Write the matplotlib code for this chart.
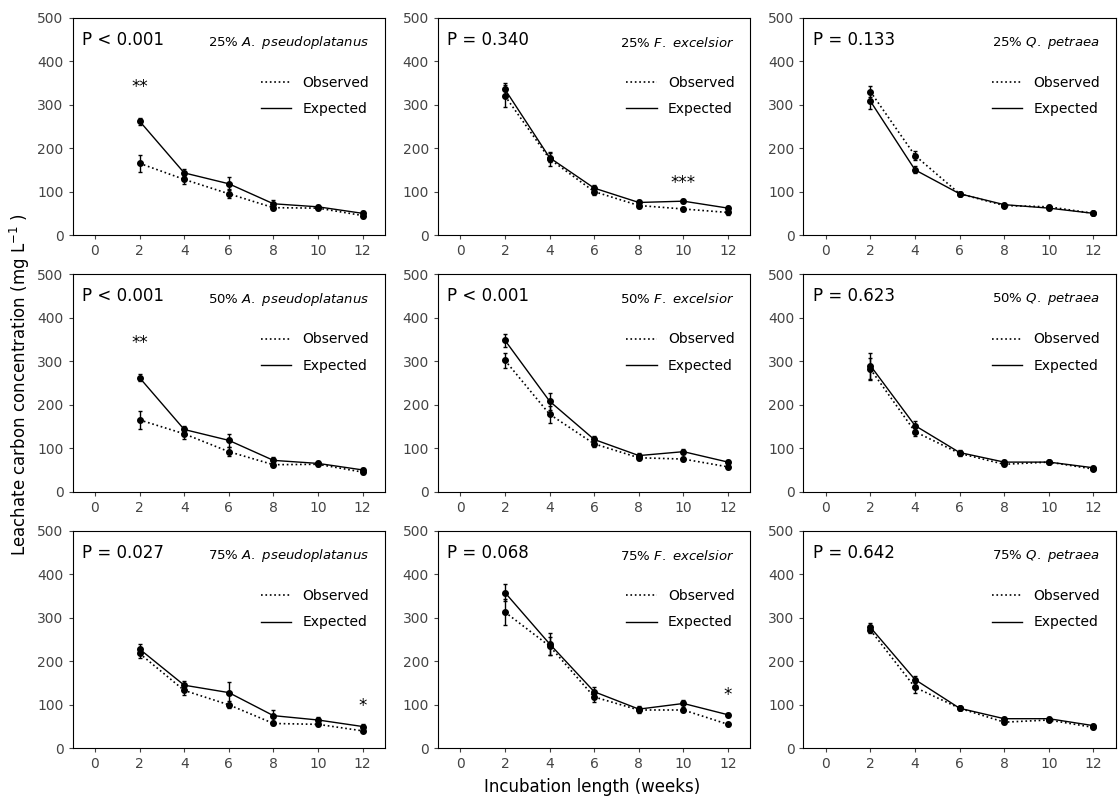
import matplotlib
matplotlib.use("Agg")
import matplotlib.pyplot as plt
from matplotlib.lines import Line2D

plt.rcParams['mathtext.fontset'] = 'custom'
plt.rcParams['mathtext.it'] = 'DejaVu Sans:italic'
plt.rcParams['mathtext.rm'] = 'DejaVu Sans'

weeks = [2, 4, 6, 8, 10, 12]
species = ["A. pseudoplatanus", "F. excelsior", "Q. petraea"]
levels = ["25%", "50%", "75%"]
pvals = [["P < 0.001", "P = 0.340", "P = 0.133"],
         ["P < 0.001", "P < 0.001", "P = 0.623"],
         ["P = 0.027", "P = 0.068", "P = 0.642"]]
obs = [[[165,128,95,63,62,45],[320,175,100,68,60,52],[330,183,95,68,65,50]],
       [[165,133,92,62,63,45],[302,178,110,78,75,57],[282,138,88,63,68,52]],
       [[218,133,100,57,55,40],[313,235,118,88,88,55],[272,140,92,60,65,48]]]
exp_ = [[[262,143,118,72,65,50],[335,178,108,75,78,62],[308,150,95,70,62,50]],
        [[262,143,118,72,65,50],[348,208,120,83,92,68],[290,152,90,68,68,55]],
        [[228,145,128,75,65,50],[358,240,130,90,103,77],[278,158,92,68,68,52]]]
obs_err = [[[20,10,10,5,5,5],[25,15,8,5,5,5],[12,10,5,4,4,3]],
           [[20,12,10,5,5,4],[18,20,8,5,5,5],[25,10,5,4,3,3]],
           [[10,10,8,4,4,3],[30,20,12,5,5,3],[8,12,4,4,3,3]]]
exp_err = [[[8,8,15,8,5,5],[15,10,8,5,5,5],[18,8,5,4,4,3]],
           [[8,8,15,8,5,5],[15,20,8,5,5,5],[30,10,5,4,3,3]],
           [[12,10,25,12,6,5],[20,25,10,8,8,5],[10,8,4,4,3,3]]]
stars = {(0,0):(2,330,"**"), (1,0):(2,330,"**"), (0,1):(10,108,"***"),
         (2,0):(12,85,"*"), (2,1):(12,110,"*")}

fig, axes = plt.subplots(3, 3, figsize=(11.18, 8.02), dpi=100)
fig.subplots_adjust(left=0.065, right=0.998, top=0.978, bottom=0.067, wspace=0.17, hspace=0.18)
handles = [Line2D([], [], color='black', ls=':', lw=1.2),
           Line2D([], [], color='black', ls='-', lw=1.0)]
for r in range(3):
    for c in range(3):
        ax = axes[r][c]
        ax.errorbar(weeks, obs[r][c], yerr=obs_err[r][c], color='black', ls=':', lw=1.2,
                    marker='o', ms=4, capsize=1.5, elinewidth=1)
        ax.errorbar(weeks, exp_[r][c], yerr=exp_err[r][c], color='black', ls='-', lw=1.0,
                    marker='o', ms=4, capsize=1.5, elinewidth=1)
        ax.set_xlim(-1, 13)
        ax.set_ylim(0, 500)
        ax.set_xticks(range(0, 13, 2))
        ax.set_yticks(range(0, 501, 100))
        ax.tick_params(labelsize=10, colors='#444444', length=3)
        for s in ax.spines.values():
            s.set_color('black'); s.set_linewidth(0.8)
        ax.text(0.03, 0.94, pvals[r][c], transform=ax.transAxes, fontsize=12, va='top')
        ax.text(0.95, 0.885, levels[r] + " $\\it{" + species[c].replace(" ", "\\ ") + "}$",
                transform=ax.transAxes, fontsize=9.5, ha='right', va='center')
        ax.legend(handles, ["Observed", "Expected"], loc='upper right',
                  bbox_to_anchor=(0.99, 0.79), frameon=False,
                  fontsize=10, handlelength=2.2, labelspacing=0.9)
        if (r, c) in stars:
            x, y, s = stars[(r, c)]
            ax.text(x, y, s, ha='center', fontsize=12)
fig.text(0.018, 0.52, "Leachate carbon concentration (mg L$^{-1}$ )", rotation=90,
         va='center', ha='center', fontsize=12)
fig.text(0.53, 0.012, "Incubation length (weeks)", ha='center', fontsize=12)
fig.savefig("out.png", dpi=100)
